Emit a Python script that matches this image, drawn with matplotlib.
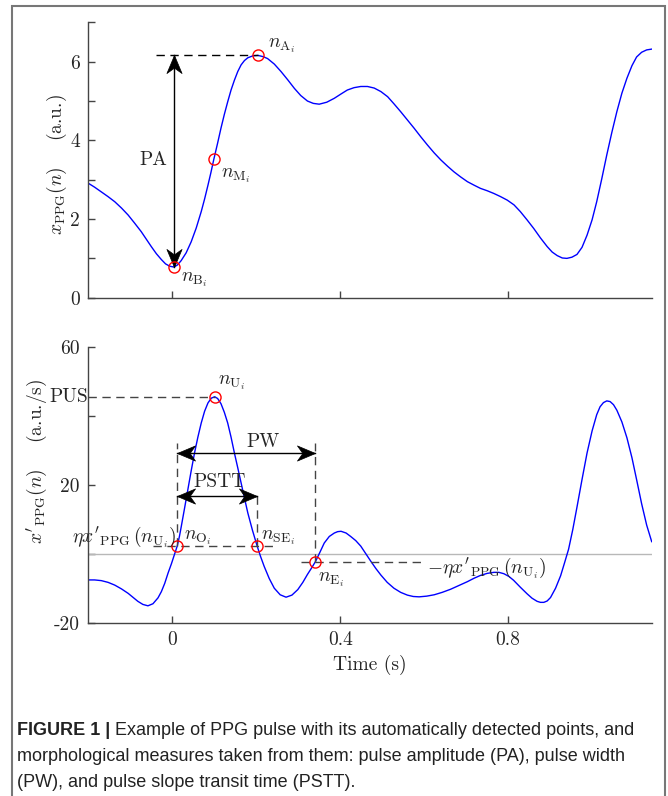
import numpy as np
import matplotlib
matplotlib.use('Agg')
import matplotlib.pyplot as plt
from matplotlib.path import Path
from matplotlib.markers import MarkerStyle
from matplotlib.transforms import Affine2D
from matplotlib.patches import Rectangle

# PPG pulse
t_top = [-0.200, -0.185, -0.169, -0.153, -0.137, -0.121, -0.105, -0.090, -0.074,
         -0.062, -0.050, -0.038, -0.026, -0.016, -0.006, 0.004, 0.012, 0.021,
         0.033, 0.045, 0.057, 0.069, 0.077, 0.085, 0.092, 0.099, 0.108, 0.116,
         0.124, 0.132, 0.140, 0.148, 0.156, 0.164, 0.172, 0.180, 0.192, 0.204,
         0.216, 0.227, 0.243, 0.259, 0.275, 0.291, 0.306, 0.322, 0.336, 0.350,
         0.368, 0.386, 0.402, 0.417, 0.433, 0.449, 0.465, 0.481, 0.497, 0.513,
         0.528, 0.544, 0.560, 0.576, 0.592, 0.608, 0.624, 0.640, 0.656, 0.671,
         0.687, 0.703, 0.719, 0.734, 0.750, 0.766, 0.782, 0.798, 0.814, 0.829,
         0.845, 0.861, 0.877, 0.893, 0.905, 0.917, 0.929, 0.940, 0.952, 0.964,
         0.976, 0.988, 1.000, 1.011, 1.023, 1.035, 1.047, 1.059, 1.071, 1.083,
         1.095, 1.106, 1.118, 1.130, 1.142]
x_top = [2.91, 2.81, 2.69, 2.57, 2.44, 2.28, 2.10, 1.90, 1.68,
         1.49, 1.30, 1.12, 0.97, 0.86, 0.80, 0.78, 0.83, 0.94,
         1.14, 1.42, 1.77, 2.19, 2.51, 2.86, 3.18, 3.52, 3.93, 4.31,
         4.66, 4.98, 5.28, 5.53, 5.75, 5.92, 6.03, 6.10, 6.15, 6.16,
         6.13, 6.08, 5.94, 5.75, 5.54, 5.32, 5.14, 5.00, 4.94, 4.92,
         4.97, 5.07, 5.18, 5.28, 5.34, 5.37, 5.37, 5.33, 5.24, 5.11,
         4.93, 4.73, 4.52, 4.31, 4.09, 3.88, 3.68, 3.50, 3.34, 3.20,
         3.07, 2.95, 2.86, 2.78, 2.72, 2.65, 2.57, 2.48, 2.36, 2.19,
         1.98, 1.76, 1.52, 1.30, 1.16, 1.07, 1.01, 1.00, 1.03, 1.10,
         1.28, 1.59, 1.98, 2.44, 3.02, 3.63, 4.20, 4.73, 5.20, 5.58,
         5.90, 6.12, 6.24, 6.30, 6.32]

# first derivative
t_bot = [-0.200, -0.185, -0.169, -0.153, -0.137, -0.121, -0.105, -0.094, -0.082,
         -0.070, -0.058, -0.046, -0.034, -0.026, -0.018, -0.010, -0.002, 0.005,
         0.012, 0.017, 0.021, 0.029, 0.037, 0.045, 0.053, 0.061, 0.069, 0.077,
         0.085, 0.093, 0.101, 0.108, 0.116, 0.124, 0.132, 0.140, 0.148, 0.156,
         0.164, 0.172, 0.180, 0.191, 0.202, 0.210, 0.219, 0.231, 0.243, 0.257,
         0.271, 0.285, 0.299, 0.311, 0.322, 0.332, 0.341, 0.352, 0.362, 0.374,
         0.386, 0.394, 0.402, 0.414, 0.425, 0.437, 0.449, 0.461, 0.473, 0.485,
         0.497, 0.512, 0.528, 0.544, 0.560, 0.574, 0.588, 0.606, 0.624, 0.643,
         0.663, 0.683, 0.703, 0.719, 0.734, 0.750, 0.766, 0.778, 0.790, 0.802,
         0.813, 0.829, 0.845, 0.857, 0.869, 0.877, 0.885, 0.893, 0.901, 0.913,
         0.925, 0.934, 0.944, 0.954, 0.964, 0.976, 0.988, 1.000, 1.011, 1.019,
         1.027, 1.035, 1.043, 1.051, 1.059, 1.071, 1.083, 1.095, 1.106, 1.118,
         1.130, 1.142]
d_bot = [-7.6, -7.6, -7.8, -8.3, -9.1, -10.2, -11.5, -12.6, -13.8,
         -14.7, -15.1, -14.5, -12.8, -11.0, -8.6, -5.6, -2.9, -0.3,
         2.3, 5.0, 7.6, 13.0, 18.5, 24.0, 29.2, 33.8, 37.9, 41.3,
         43.7, 45.1, 45.5, 45.0, 43.5, 41.0, 37.9, 33.8, 29.2, 24.9,
         20.5, 16.1, 11.8, 6.8, 2.3, -0.7, -3.7, -7.2, -10.0, -11.9,
         -12.6, -12.0, -10.4, -8.3, -6.0, -4.1, -2.3, 0.5, 3.1, 5.0,
         6.0, 6.4, 6.5, 6.0, 5.0, 3.8, 2.2, 0.0, -2.2, -4.3,
         -6.2, -8.3, -10.0, -11.2, -12.0, -12.4, -12.5, -12.3, -11.9, -11.2,
         -10.3, -9.2, -8.1, -7.1, -6.3, -5.7, -5.4, -5.4, -5.8, -6.6,
         -7.7, -9.7, -11.6, -12.9, -13.8, -14.1, -14.1, -13.7, -12.7, -10.0,
         -6.4, -2.8, 1.3, 7.0, 13.5, 21.5, 29.2, 35.6, 40.3, 42.6,
         43.8, 44.3, 44.1, 43.2, 41.6, 38.2, 33.6, 27.8, 21.5, 14.5,
         8.3, 3.5]

# detected points: B, M, A on the pulse; O, U, SE, E on the derivative
pts_top_t = [0.004, 0.099, 0.204]
pts_top_x = [0.78, 3.52, 6.16]
pts_bot_t = [0.012, 0.101, 0.202, 0.341]
pts_bot_d = [2.3, 45.5, 2.3, -2.3]
eta_thr = 2.3

xticks = [0, 0.4, 0.8]
xticklabels = ['0', '0.4', '0.8']

plt.rcParams['font.family'] = 'serif'
plt.rcParams['font.serif'] = ['cmr10']
plt.rcParams['mathtext.fontset'] = 'cm'
plt.rcParams['axes.unicode_minus'] = False
plt.rcParams['axes.formatter.use_mathtext'] = True

FS = 14
AXC = '#444444'
TXC = '#262626'
DASH = (0, (6, 4))

head_path = Path([(0, 0), (-1, 0.42), (-0.7, 0), (-1, -0.42), (0, 0)],
                 [Path.MOVETO, Path.LINETO, Path.LINETO, Path.LINETO, Path.CLOSEPOLY])


def head(angle):
    return MarkerStyle(head_path, transform=Affine2D().rotate_deg(angle))


def double_arrow(ax, p0, p1):
    ax.plot([p0[0], p1[0]], [p0[1], p1[1]], color='k', lw=1)
    if abs(p1[0] - p0[0]) < 1e-9:
        ang = 90 if p1[1] > p0[1] else -90
    else:
        ang = 0 if p1[0] > p0[0] else 180
    ax.plot([p1[0]], [p1[1]], ls='none', marker=head(ang), ms=26, color='k', mew=0.5)
    ax.plot([p0[0]], [p0[1]], ls='none', marker=head(ang + 180), ms=26, color='k', mew=0.5)


def style(ax):
    for s in ['top', 'right']:
        ax.spines[s].set_visible(False)
    for s in ['left', 'bottom']:
        ax.spines[s].set_color(AXC)
        ax.spines[s].set_linewidth(1)
    ax.tick_params(direction='in', length=5, width=1, color=AXC,
                   labelsize=FS, labelcolor=TXC, pad=6)
    ax.set_xlim(-0.2, 1.142)
    ax.set_xticks(xticks)


fig = plt.figure(figsize=(6.68, 7.96), dpi=100)
ax1 = fig.add_axes([0.1322, 0.626, 0.8434, 0.3459])
ax2 = fig.add_axes([0.1322, 0.2177, 0.8434, 0.3467])

# ---- top: PPG pulse ----
style(ax1)
ax1.plot(t_top, x_top, color='#0000ff', lw=1)
ax1.set_ylim(0, 7)
ax1.set_yticks(range(8))
ax1.set_yticklabels(['0', '', '2', '', '4', '', '6', ''])
ax1.set_xticklabels([])

tB, tM, tA = pts_top_t
xB, xM, xA = pts_top_x
ax1.plot([-0.038, tA], [xA, xA], color='k', lw=1, ls=DASH)
double_arrow(ax1, (tB, xB), (tB, xA))
ax1.plot(pts_top_t, pts_top_x, ls='none', marker='o', ms=8, mfc='none', mec='r', mew=1)
ax1.text(-0.013, 3.5, 'PA', fontsize=FS, ha='right', va='center', color=TXC)
ax1.text(0.227, 6.4, r'$n_{\mathrm{A}_i}$', fontsize=FS, ha='left', va='center', color=TXC)
ax1.text(0.115, 3.1, r'$n_{\mathrm{M}_i}$', fontsize=FS, ha='left', va='center', color=TXC)
ax1.text(0.021, 0.45, r'$n_{\mathrm{B}_i}$', fontsize=FS, ha='left', va='center', color=TXC)
ax1.set_ylabel(r'$x_{\mathrm{PPG}}(n)$    (a.u.)', fontsize=FS, color=TXC, va='center')
ax1.yaxis.set_label_coords(-0.0556, 0.482)

# ---- bottom: derivative ----
style(ax2)
ax2.axhline(0, color='#b8b8b8', lw=1)
ax2.plot(t_bot, d_bot, color='#0000ff', lw=1)
ax2.set_ylim(-20, 60)
ax2.set_yticks([-20, 0, 20, 40, 60])
ax2.set_yticklabels(['-20', '', '20', '', '60'])
ax2.set_xticklabels(xticklabels)

tO, tU, tSE, tE = pts_bot_t
dU = pts_bot_d[1]
pw_y, pstt_y, vtop = 29.2, 16.8, 32.0
ax2.plot([-0.2, tU], [dU, dU], color=AXC, lw=1, ls=DASH)
ax2.plot([-0.046, 0.243], [eta_thr, eta_thr], color=AXC, lw=1, ls=DASH)
ax2.plot([0.307, 0.600], [-eta_thr, -eta_thr], color=AXC, lw=1, ls=DASH)
ax2.plot([tO, tO], [eta_thr, vtop], color=AXC, lw=1, ls=DASH)
ax2.plot([tSE, tSE], [eta_thr, 17.4], color=AXC, lw=1, ls=DASH)
ax2.plot([tE, tE], [-eta_thr, vtop], color=AXC, lw=1, ls=DASH)
double_arrow(ax2, (tO, pw_y), (tE, pw_y))
double_arrow(ax2, (tO, pstt_y), (tSE, pstt_y))
ax2.plot(pts_bot_t, pts_bot_d, ls='none', marker='o', ms=8, mfc='none', mec='r', mew=1)

ax2.text(-0.2, dU, 'PUS', fontsize=FS, ha='right', va='center', color=TXC)
ax2.text(0.216, 32.4, 'PW', fontsize=FS, ha='center', va='center', color=TXC)
ax2.text(0.112, 20.7, 'PSTT', fontsize=FS, ha='center', va='center', color=TXC)
ax2.text(0.108, 49.5, r'$n_{\mathrm{U}_i}$', fontsize=FS, ha='left', va='center', color=TXC)
ax2.text(0.029, 4.6, r'$n_{\mathrm{O}_i}$', fontsize=FS, ha='left', va='center', color=TXC)
ax2.text(0.211, 4.6, r'$n_{\mathrm{SE}_i}$', fontsize=FS, ha='left', va='center', color=TXC)
ax2.text(0.346, -7.6, r'$n_{\mathrm{E}_i}$', fontsize=FS, ha='left', va='center', color=TXC)
ax2.text(0.0095, 4.6, r"$\eta x'_{\mathrm{PPG}}\,(n_{\mathrm{U}_i})$", fontsize=FS,
         ha='right', va='center', color=TXC)
ax2.text(0.6076, -4.2, r"$-\eta x'_{\mathrm{PPG}}\,(n_{\mathrm{U}_i})$", fontsize=FS,
         ha='left', va='center', color=TXC)
ax2.set_xlabel('Time (s)', fontsize=FS, color=TXC, labelpad=4)
ax2.set_ylabel(r"$x'_{\mathrm{PPG}}(n)$    (a.u./s)", fontsize=FS, color=TXC, va='center')
ax2.yaxis.set_label_coords(-0.091, 0.586)

# outer frame
W, H = 668, 796
fig.add_artist(Rectangle((12 / W, -0.05), (665 - 12) / W, 1.05 - 6 / H,
                         transform=fig.transFigure, fill=False, ec='#777777', lw=1.5))

# caption
cap_font = dict(family='Liberation Sans', size=13, color='#222222')
lines = [
    ('FIGURE 1 |', ' Example of PPG pulse with its automatically detected points, and'),
    ('', 'morphological measures taken from them: pulse amplitude (PA), pulse width'),
    ('', '(PW), and pulse slope transit time (PSTT).'),
]
baselines = [735, 761, 787]
renderer = fig.canvas.get_renderer()
for (bold, rest), yb in zip(lines, baselines):
    x0 = 17
    if bold:
        tb = fig.text(x0 / W, 1 - yb / H, bold, fontweight='bold', va='baseline', **cap_font)
        x0 = tb.get_window_extent(renderer=renderer).x1
    fig.text(x0 / W, 1 - yb / H, rest, va='baseline', **cap_font)

fig.savefig('out.png', dpi=100)
